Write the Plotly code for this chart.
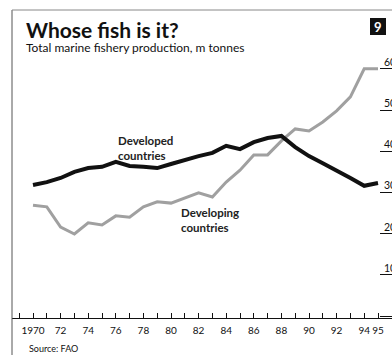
import plotly.graph_objects as go

years = list(range(1970, 1996))
developed = [31.8, 32.5, 33.5, 35.0, 35.9, 36.2, 37.4, 36.4, 36.2, 35.9, 36.9, 37.9, 38.8, 39.6,
             41.3, 40.5, 42.2, 43.2, 43.7, 41.0, 38.8, 37.1, 35.4, 33.5, 31.6, 32.3]
developing = [26.9, 26.5, 21.6, 19.9, 22.6, 22.1, 24.3, 24.0, 26.5, 27.7, 27.4, 28.6, 29.9, 28.9,
              32.5, 35.4, 39.1, 39.1, 42.5, 45.4, 44.9, 47.1, 49.8, 53.2, 60.0, 60.0]
xtick_vals = [1970, 1972, 1974, 1976, 1978, 1980, 1982, 1984, 1986, 1988, 1990, 1992, 1994, 1995]
xtick_text = ["1970", "72", "74", "76", "78", "80", "82", "84", "86", "88", "90", "92", "94", "95"]
ytick_vals = [0, 10, 20, 30, 40, 50, 60]

W, H = 392, 355
L, R, T, B = 12, 0, 60, 37
PX_YEAR = 13.8
PX_UNIT = 4.12
x0 = 1970 - (33 - L) / PX_YEAR
x1 = 1970 + (W - R - 33) / PX_YEAR
y_bottom = -2 / PX_UNIT
y_top = (316 - T) / PX_UNIT

FONT = "Lato"

fig = go.Figure()
fig.add_trace(go.Scatter(x=years, y=developing, mode="lines",
                         line=dict(color="#a0a0a0", width=3), hoverinfo="skip"))
fig.add_trace(go.Scatter(x=years, y=developed, mode="lines",
                         line=dict(color="#111111", width=4), hoverinfo="skip"))

def px_x(p):
    return (p - L) / (W - L - R)

def px_y(p):
    return (H - B - p) / (H - T - B)

shapes = [
    dict(type="line", xref="paper", yref="paper", x0=px_x(12), x1=px_x(12), y0=px_y(10), y1=px_y(355),
         line=dict(color="#555555", width=1)),
    dict(type="line", xref="paper", yref="paper", x0=px_x(12), x1=px_x(392), y0=px_y(10), y1=px_y(10),
         line=dict(color="#888888", width=1)),
    dict(type="rect", xref="paper", yref="paper", x0=px_x(370), x1=px_x(386), y0=px_y(18), y1=px_y(35),
         fillcolor="#111111", line=dict(width=0)),
]

annotations = [
    dict(text="<b>Whose fish is it?</b>", xref="paper", yref="paper", x=px_x(24), y=px_y(29.5),
         xanchor="left", yanchor="middle", showarrow=False, font=dict(family=FONT, size=21, color="#111")),
    dict(text="Total marine fishery production, m tonnes", xref="paper", yref="paper", x=px_x(24), y=px_y(48),
         xanchor="left", yanchor="middle", showarrow=False, font=dict(family=FONT, size=12, color="#111")),
    dict(text="<b>9</b>", xref="paper", yref="paper", x=px_x(378), y=px_y(26.5),
         xanchor="center", yanchor="middle", showarrow=False, font=dict(family=FONT, size=13, color="white")),
    dict(text="<b>Developed<br>countries</b>", xref="paper", yref="paper", x=px_x(116), y=px_y(132),
         xanchor="left", yanchor="top", align="left", showarrow=False,
         font=dict(family=FONT, size=11.5, color="#222")),
    dict(text="<b>Developing<br>countries</b>", xref="paper", yref="paper", x=px_x(179), y=px_y(204),
         xanchor="left", yanchor="top", align="left", showarrow=False,
         font=dict(family=FONT, size=11.5, color="#222")),
    dict(text="Source: FAO", xref="paper", yref="paper", x=px_x(27), y=px_y(348),
         xanchor="left", yanchor="middle", showarrow=False, font=dict(family=FONT, size=9, color="#111")),
]
for v in ytick_vals[1:]:
    annotations.append(dict(text=str(v), xref="paper", yref="y", x=px_x(382), y=v, yshift=7,
                            xanchor="left", yanchor="middle", showarrow=False,
                            font=dict(family=FONT, size=10.5, color="#111")))

fig.update_layout(
    width=W, height=H, margin=dict(l=L, r=R, t=T, b=B, autoexpand=False),
    paper_bgcolor="white", plot_bgcolor="white", showlegend=False,
    shapes=shapes, annotations=annotations,
    xaxis=dict(range=[x0, x1], tickmode="array", tickvals=xtick_vals, ticktext=xtick_text,
               tickangle=0,
               ticks="inside", ticklen=5, tickcolor="#111", tickwidth=1,
               minor=dict(dtick=1, tick0=1970, ticks="inside", ticklen=5, tickcolor="#111", tickwidth=1),
               showgrid=False, zeroline=False, showline=True, linecolor="#111", linewidth=1,
               tickfont=dict(family=FONT, size=10, color="#111"), ticklabelstandoff=3,
               automargin=False, fixedrange=True),
    yaxis=dict(range=[y_bottom, y_top], side="right", tickmode="array", tickvals=ytick_vals,
               ticks="inside", ticklen=12, tickcolor="#111", tickwidth=1, showticklabels=False,
               showgrid=False, zeroline=False, showline=False, automargin=False, fixedrange=True),
)

fig.write_html("out.html", config={"displayModeBar": False})
